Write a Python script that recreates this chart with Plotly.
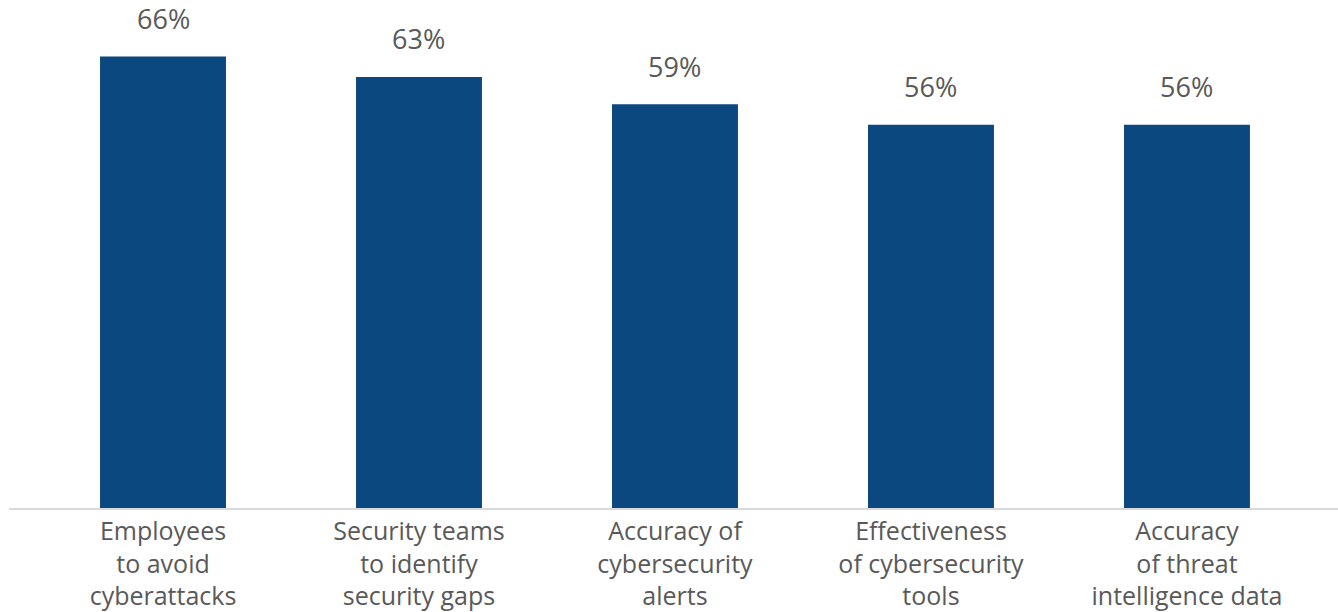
import plotly.graph_objects as go

categories = ["Employees<br>to avoid<br>cyberattacks",
              "Security teams<br>to identify<br>security gaps",
              "Accuracy of<br>cybersecurity<br>alerts",
              "Effectiveness<br>of cybersecurity<br>tools",
              "Accuracy<br>of threat<br>intelligence data"]
values = [66, 63, 59, 56, 56]
labels = ["66%", "63%", "59%", "56%", "56%"]

FONT = "'Open Sans', Lato, sans-serif"
GREY = "#595959"

fig = go.Figure()
fig.add_trace(go.Bar(
    x=list(range(len(categories))), y=values,
    marker=dict(color="#0b4880", line=dict(width=0)),
    width=0.492,
))
for i, (v, t) in enumerate(zip(values, labels)):
    fig.add_annotation(x=i, y=v, text=t, showarrow=False, yshift=38,
                       font=dict(family=FONT, size=27, color=GREY))

fig.update_layout(
    width=1338, height=612,
    margin=dict(l=9, r=0, t=0, b=102),
    paper_bgcolor="white", plot_bgcolor="white",
    showlegend=False,
    xaxis=dict(range=[-0.6016, 4.59], tickmode="array",
               tickvals=list(range(len(categories))), ticktext=categories,
               tickfont=dict(family=FONT, size=25, color=GREY),
               showline=True, linecolor="#d9d9d9", linewidth=2,
               showgrid=False, zeroline=False, ticks=""),
    yaxis=dict(range=[0, 74.24], visible=False, showgrid=False, zeroline=False),
)
fig.write_html("out.html")
